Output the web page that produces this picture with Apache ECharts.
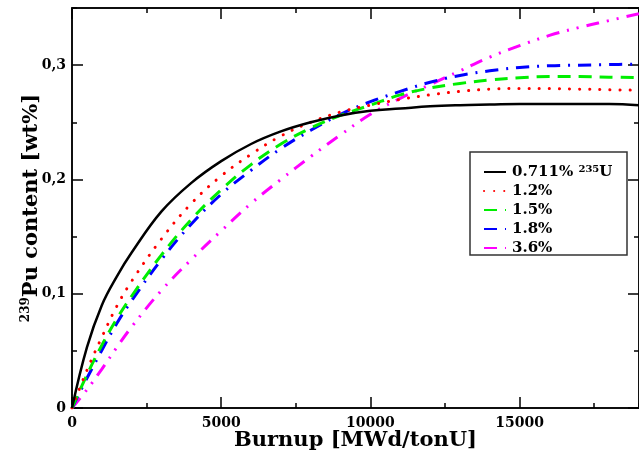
<!DOCTYPE html>
<html>
<head>
<meta charset="utf-8">
<script src="https://cdn.jsdelivr.net/npm/echarts@6/dist/echarts.min.js"></script>
<style>
html,body{margin:0;padding:0;background:#fff;}
#chart{width:639px;height:461px;}
</style>
</head>
<body>
<div id="chart"></div>
<script>
// Burnup [MWd/tonU]
const burnup = [0,500,1000,1500,2000,3000,4000,5000,6000,7000,8000,9000,10000,11000,12000,13000,14000,15000,16000,17000,18000,19000];
// 239Pu content [wt%] for each initial enrichment
const pu0711 = [0,0.053,0.090,0.115,0.136,0.172,0.197,0.216,0.231,0.242,0.250,0.256,0.260,0.262,0.264,0.265,0.2655,0.266,0.266,0.266,0.266,0.265];
const pu12   = [0,0.033,0.062,0.089,0.111,0.148,0.179,0.203,0.222,0.238,0.250,0.259,0.265,0.270,0.274,0.277,0.279,0.2795,0.2795,0.279,0.2785,0.278];
const pu15   = [0,0.029,0.055,0.078,0.098,0.134,0.165,0.191,0.213,0.231,0.245,0.256,0.265,0.274,0.280,0.284,0.287,0.289,0.290,0.290,0.2895,0.289];
const pu18   = [0,0.026,0.0505,0.074,0.094,0.130,0.161,0.187,0.208,0.227,0.243,0.257,0.268,0.277,0.285,0.291,0.295,0.298,0.2995,0.300,0.3005,0.301];
const pu36   = [0,0.016,0.034,0.053,0.071,0.103,0.130,0.155,0.179,0.200,0.220,0.239,0.257,0.271,0.283,0.295,0.307,0.317,0.326,0.333,0.339,0.345];
const seriesNames = ['0.711%','1.2%','1.5%','1.8%','3.6%'];
const xTicks = {min:0, max:19000, major:5000, minor:2500};
const yTicks = {min:0, max:0.35, major:0.1, minor:0.05};

const FONT = 'DejaVu Serif';
const chart = echarts.init(document.getElementById('chart'), null, {renderer:'canvas'});

function pairs(ys){ return burnup.map((x,i)=>[x, ys[i]]); }

function xAxisDef(pos, interval, len, labels){
  return {
    type:'value', position:pos, min:xTicks.min, max:xTicks.max, interval:interval,
    axisLine:{show:true, onZero:false, lineStyle:{color:'#000', width:1.5}},
    axisTick:{show:true, inside:true, length:len, lineStyle:{color:'#000', width:1.5}},
    axisLabel:{show:labels, showMaxLabel:false, margin:8, color:'#000', fontFamily:FONT, fontWeight:'bold', fontSize:14,
      formatter:v => String(v)},
    splitLine:{show:false}
  };
}
function yAxisDef(pos, interval, len, labels){
  return {
    type:'value', position:pos, min:yTicks.min, max:yTicks.max, interval:interval,
    axisLine:{show:true, onZero:false, lineStyle:{color:'#000', width:1.5}},
    axisTick:{show:true, inside:true, length:len, lineStyle:{color:'#000', width:1.5}},
    axisLabel:{show:labels, showMaxLabel:false, margin:6, color:'#000', fontFamily:FONT, fontWeight:'bold', fontSize:14,
      formatter:v => v === 0 ? '0' : v.toFixed(1).replace('.', ',')},
    splitLine:{show:false}
  };
}

const xMain = xAxisDef('bottom', xTicks.major, 11, true);
xMain.name = 'Burnup [MWd/tonU]';
xMain.nameLocation = 'middle';
xMain.nameGap = 22;
xMain.nameMoveOverlap = false;
xMain.nameTextStyle = {color:'#000', fontFamily:FONT, fontWeight:'bold', fontSize:21, verticalAlign:'top'};

const yMain = yAxisDef('left', yTicks.major, 11, true);
yMain.name = '{s|239}{t|Pu content [wt%]}';
yMain.nameLocation = 'middle';
yMain.nameGap = 28;
yMain.nameMoveOverlap = false;
yMain.nameTextStyle = {
  color:'#000', fontFamily:FONT, fontWeight:'bold', fontSize:21,
  rich:{
    s:{fontFamily:FONT, fontWeight:'bold', fontSize:12, color:'#000', verticalAlign:'top', lineHeight:24},
    t:{fontFamily:FONT, fontWeight:'bold', fontSize:21, color:'#000', lineHeight:24}
  }
};

const styles = [
  {color:'#000000', type:'solid', width:2.5, cap:'butt'},
  {color:'#ff0000', type:[0.1,10], width:3, cap:'round'},
  {color:'#00ee00', type:[13,8], width:3, cap:'butt'},
  {color:'#0000ff', type:[13,8,2,8], width:3, cap:'butt'},
  {color:'#ff00ff', type:[13,8,2,8,2,8], width:3, cap:'butt'}
];
const datasets = [pu0711, pu12, pu15, pu18, pu36];

const series = datasets.map((d,i)=>({
  name: seriesNames[i],
  type:'line',
  xAxisIndex:0, yAxisIndex:0,
  data: pairs(d),
  smooth:0.4,
  symbol:'none',
  showSymbol:false,
  color: styles[i].color,
  lineStyle:{color:styles[i].color, width:styles[i].width, type:styles[i].type, cap:styles[i].cap},
  z: 10 - i,
  animation:false
}));

chart.setOption({
  animation:false,
  backgroundColor:'#fff',
  grid:{left:72, top:8, right:-3, bottom:53, containLabel:false},
  xAxis:[
    xMain,
    xAxisDef('bottom', xTicks.minor, 5, false),
    xAxisDef('top', xTicks.major, 11, false),
    xAxisDef('top', xTicks.minor, 5, false)
  ],
  yAxis:[
    yMain,
    yAxisDef('left', yTicks.minor, 5, false),
    yAxisDef('right', yTicks.major, 11, false),
    yAxisDef('right', yTicks.minor, 5, false)
  ],
  graphic:[{
    type:'rect', z:3,
    shape:{x:470, y:152, width:157, height:103},
    style:{fill:'#fff', stroke:'#333', lineWidth:1.5}
  }],
  legend:{
    orient:'vertical', left:478, top:159, z:6,
    itemWidth:22, itemHeight:14, itemGap:4,
    itemStyle:{opacity:0},
    textStyle:{color:'#000', fontFamily:FONT, fontWeight:'bold', fontSize:15, padding:[0,0,0,1],
      rich:{
        a:{fontFamily:FONT, fontWeight:'bold', fontSize:15, color:'#000', lineHeight:16},
        s:{fontFamily:FONT, fontWeight:'bold', fontSize:10, color:'#000', verticalAlign:'top', lineHeight:16}
      }
    },
    formatter: n => n === '0.711%' ? '{a|0.711% }{s|235}{a|U}' : '{a|' + n + '}',
    data: seriesNames
  },
  series: series
});
</script>
</body>
</html>
